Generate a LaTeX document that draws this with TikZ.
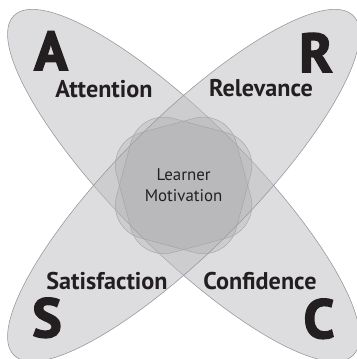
\documentclass[tikz,border=0pt]{standalone}
\usepackage{fontspec}
\setmainfont{PT Sans}
\newfontfamily\heavyfont[BoldFeatures={FakeBold=3}]{PT Sans}
\usepackage{tikz}
\usetikzlibrary{positioning, shapes.geometric}
\definecolor{arcsInk}{HTML}{231F20}
\definecolor{arcsLine}{HTML}{96969A}
\definecolor{arcsPetal}{HTML}{BFBFC2}
\definecolor{arcsCore}{HTML}{A0A0A3}

\begin{document}
\begin{tikzpicture}[
  petal/.style={ellipse, draw=arcsLine, line width=0.4pt, fill=arcsPetal, fill opacity=0.53,
    minimum width=12cm, minimum height=3.3cm, inner sep=0pt},
  core/.style={rectangle, draw=arcsLine!85, line width=0.35pt, fill=arcsCore, fill opacity=0.25,
    minimum size=3.1cm, rounded corners=0.85cm, inner sep=0pt},
  letter/.style={anchor=base, font=\heavyfont\bfseries\fontsize{39}{39}\selectfont, text=arcsInk},
  label/.style={anchor=base, font=\bfseries\fontsize{17.2}{18}\selectfont, text=arcsInk}]
  \useasboundingbox (0,0) rectangle (8.925,8.975);
  \coordinate (mid) at (4.59,4.34);
  % the two crossing leaves
  \node[petal, rotate=-45] (leafAC) at (mid) {};
  \node[petal, rotate=45] (leafRS) at (mid) {};
  % centre
  \node[core, rotate=-15] (coreA) at (mid) {};
  \node[core, rotate=15] (coreB) at (mid) {};
  \node[align=center, text=arcsInk, font=\fontsize{12}{14.7}\selectfont] (learner) at (mid) {Learner\\Motivation};
  % letters and names
  \node[letter] (ltrA) at (1.275,7.225) {A};
  \node[label] (attention) at (2.6,6.525) {Attention};
  \node[letter] (ltrR) at (7.9,7.175) {R};
  \node[label] (relevance) at (6.525,6.55) {Relevance};
  \node[label] (satisfaction) at (2.675,1.725) {Satisfaction};
  \node[letter] (ltrS) at (1.175,0.55) {S};
  \node[label] (confidence) at (6.5,1.725) {Confidence};
  \node[letter] (ltrC) at (7.975,0.525) {C};
\end{tikzpicture}
\end{document}
